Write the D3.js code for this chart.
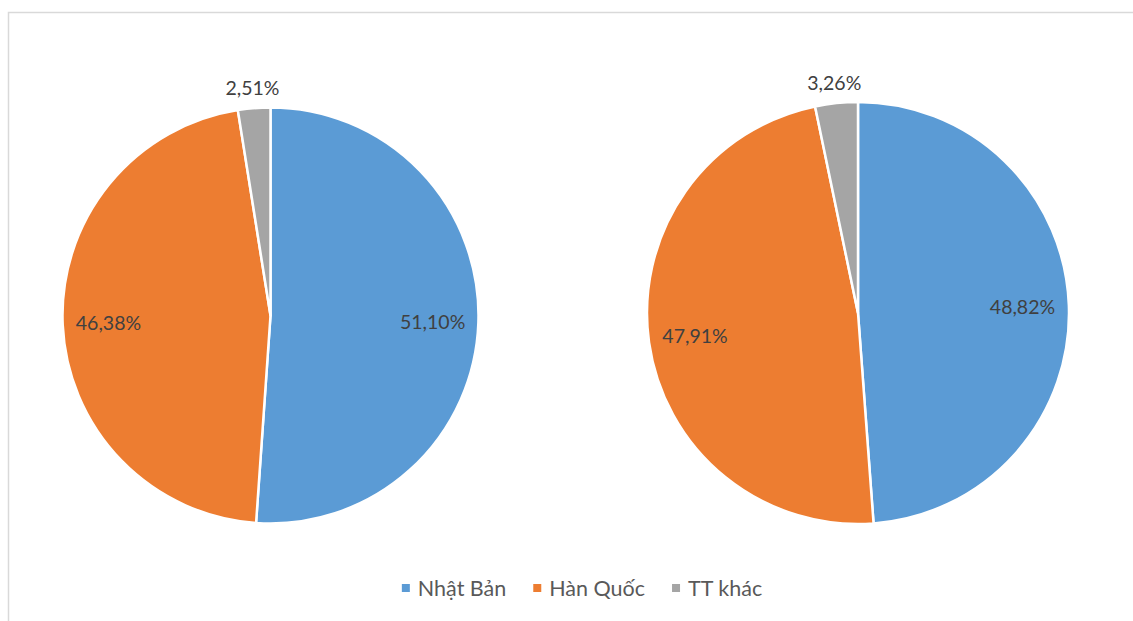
<!DOCTYPE html>
<html>
<head>
<meta charset="utf-8">
<script src="https://cdn.jsdelivr.net/npm/d3@7"></script>
<style>
  body { margin: 0; background: #fff; }
  svg { display: block; font-family: Lato, "Open Sans", sans-serif; }
</style>
</head>
<body>
<svg id="chart" width="1133" height="621"></svg>
<script>
// data
const categories = ['Nhật Bản', 'Hàn Quốc', 'TT khác'];
const leftValues = [51.10, 46.38, 2.51];
const rightValues = [48.82, 47.91, 3.26];
const colors = ['#5B9BD5', '#ED7D31', '#A5A5A5'];

const svg = d3.select('#chart');

// chart frame (runs off the right/bottom edge like the original)
svg.append('rect')
   .attr('x', 8.5).attr('y', 12.5)
   .attr('width', 1200).attr('height', 700)
   .attr('fill', '#fff')
   .attr('stroke', '#D9D9D9')
   .attr('stroke-width', 1.5);

const color = d3.scaleOrdinal().domain(categories).range(colors);
const fmt = v => d3.format('.2f')(v).replace('.', ',') + '%';

const pie = d3.pie().sort(null).value(d => d.value);

function drawPie(values, cx, cy, r) {
    const data = categories.map((c, i) => ({name: c, value: values[i]}));
    const arcs = pie(data);
    const g = svg.append('g').attr('transform', `translate(${cx},${cy})`);

    const arc = d3.arc().innerRadius(0).outerRadius(r);
    g.selectAll('path')
     .data(arcs)
     .enter()
     .append('path')
     .attr('d', arc)
     .attr('fill', d => color(d.data.name))
     .attr('stroke', '#fff')
     .attr('stroke-width', 2.5)
     .attr('stroke-linejoin', 'round');

    // labels: inside for big slices, just outside for small ones
    const inner = d3.arc().innerRadius(r * 0.78).outerRadius(r * 0.78);
    const outer = d3.arc().innerRadius(r + 21).outerRadius(r + 21);
    g.selectAll('text')
     .data(arcs)
     .enter()
     .append('text')
     .attr('transform', d => {
         const p = (d.data.value < 5 ? outer : inner).centroid(d);
         return `translate(${p[0]},${p[1]})`;
     })
     .attr('text-anchor', 'middle')
     .attr('dominant-baseline', 'central')
     .attr('font-size', 19.5)
     .attr('fill', '#404040')
     .text(d => fmt(d.data.value));
}

drawPie(leftValues, 270.5, 315.5, 208);
drawPie(rightValues, 858, 313, 211);

// legend
const legend = svg.append('g');
const items = legend.selectAll('g')
    .data(categories)
    .enter()
    .append('g');
items.append('rect')
     .attr('width', 8).attr('height', 8)
     .attr('y', -4)
     .attr('fill', d => color(d));
items.append('text')
     .attr('x', 16)
     .attr('dominant-baseline', 'central')
     .attr('font-size', 21.5)
     .attr('fill', '#595959')
     .text(d => d);

let x = 0;
items.each(function() {
    const w = this.querySelector('text').getComputedTextLength();
    d3.select(this).attr('transform', `translate(${x},0)`);
    x += 16 + w + 27;
});
const total = x - 27;
legend.attr('transform', `translate(${582 - total / 2},588)`);
</script>
</body>
</html>
